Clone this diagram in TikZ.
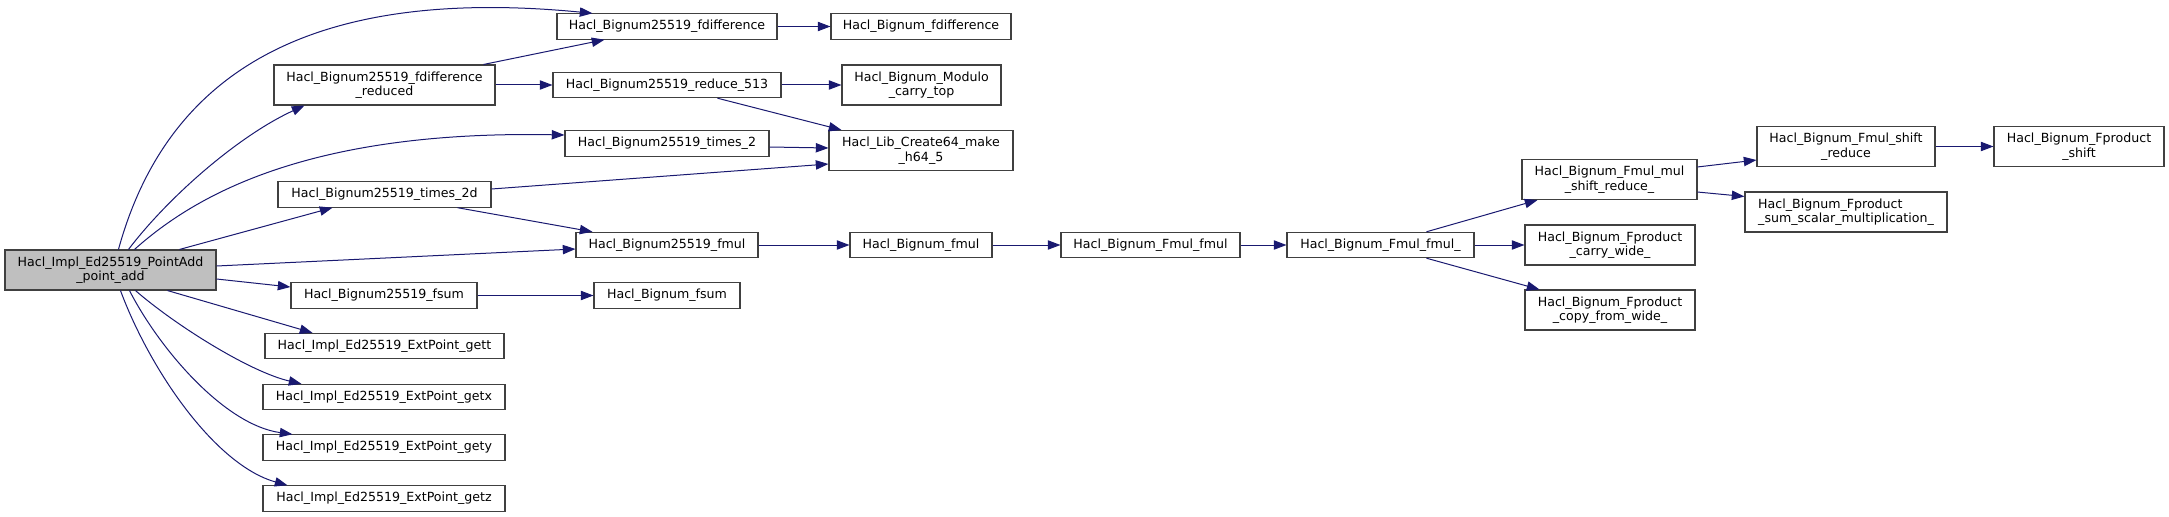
\documentclass[tikz,border=0pt]{standalone}
\usepackage{fontspec}
\setmainfont{DejaVu Sans}
\usetikzlibrary{arrows.meta,calc}
\definecolor{edgeblue}{RGB}{25,25,112}
\definecolor{boxgray}{RGB}{64,64,64}
\definecolor{rootfill}{RGB}{191,191,191}

\begin{document}
\begin{tikzpicture}[
    x=0.75pt, y=-0.75pt,
    func/.style={
        rectangle, draw=boxgray, line width=0.8pt,
        minimum height=19pt, inner sep=0pt,
        align=center, font=\fontsize{9.45}{10.9}\selectfont
    },
    tall/.style={minimum height=30pt},
    root/.style={func, tall, fill=rootfill},
    call/.style={-{Triangle[length=9.5pt,width=7pt]}, draw=edgeblue, line width=0.75pt}
]
\useasboundingbox (0,0) rectangle (2169,517);

% Blocks
\node[root, minimum width=158.25pt] (main) at (110.5,270) {Hacl\_Impl\_Ed25519\_PointAdd\\\_point\_add};

\node[func, tall, minimum width=165.75pt] (fdiffred) at (384.5,85)  {Hacl\_Bignum25519\_fdifference\\\_reduced};
\node[func, minimum width=159.75pt] (times2d) at (384.5,194.5) {Hacl\_Bignum25519\_times\_2d};
\node[func, minimum width=139.5pt]  (fsum)    at (384,295.5)   {Hacl\_Bignum25519\_fsum};
\node[func, minimum width=179.25pt] (gett)    at (384.5,346)   {Hacl\_Impl\_Ed25519\_ExtPoint\_gett};
\node[func, minimum width=181.5pt]  (getx)    at (384,397)     {Hacl\_Impl\_Ed25519\_ExtPoint\_getx};
\node[func, minimum width=181.5pt]  (gety)    at (384,447.5)   {Hacl\_Impl\_Ed25519\_ExtPoint\_gety};
\node[func, minimum width=181.5pt]  (getz)    at (384,498.5)   {Hacl\_Impl\_Ed25519\_ExtPoint\_getz};

\node[func, minimum width=165pt]   (fdiff)  at (667,26.5)  {Hacl\_Bignum25519\_fdifference};
\node[func, minimum width=171pt]   (reduce) at (667,85)    {Hacl\_Bignum25519\_reduce\_513};
\node[func, minimum width=153pt]   (times2) at (667,143.5) {Hacl\_Bignum25519\_times\_2};
\node[func, minimum width=136.5pt] (fmul)   at (667,245)   {Hacl\_Bignum25519\_fmul};
\node[func, minimum width=109.5pt] (bfsum)  at (667,295.5) {Hacl\_Bignum\_fsum};

\node[func, minimum width=135pt]          (bfdiff)   at (921,26.5)  {Hacl\_Bignum\_fdifference};
\node[func, tall, minimum width=119.25pt] (modcarry) at (921.5,85)  {Hacl\_Bignum\_Modulo\\\_carry\_top};
\node[func, tall, minimum width=138pt]    (makeh)    at (921,150.5) {Hacl\_Lib\_Create64\_make\\\_h64\_5};
\node[func, minimum width=106.5pt]        (bfmul)    at (921,245)   {Hacl\_Bignum\_fmul};

\node[func, minimum width=134.25pt] (fmulfmul)  at (1150.5,245) {Hacl\_Bignum\_Fmul\_fmul};
\node[func, minimum width=140.25pt] (fmulfmulu) at (1380.5,245) {Hacl\_Bignum\_Fmul\_fmul\_};

\node[func, tall, minimum width=131.25pt] (mulshift)  at (1609.5,179.5) {Hacl\_Bignum\_Fmul\_mul\\\_shift\_reduce\_};
\node[func, tall, minimum width=127.5pt]  (carrywide) at (1610,245)     {Hacl\_Bignum\_Fproduct\\\_carry\_wide\_};
\node[func, tall, minimum width=127.5pt]  (copywide)  at (1610,310)     {Hacl\_Bignum\_Fproduct\\\_copy\_from\_wide\_};

\node[func, tall, minimum width=133.5pt] (shiftred)  at (1846,146.5) {Hacl\_Bignum\_Fmul\_shift\\\_reduce};
\node[func, tall, minimum width=151.5pt, align=left] (sumscalar) at (1846,212) {Hacl\_Bignum\_Fproduct\\\_sum\_scalar\_multiplication\_};
\node[func, tall, minimum width=127.5pt] (fpshift)   at (2079,146.5) {Hacl\_Bignum\_Fproduct\\\_shift};

% Edges from the root
\draw[call] ($(main.north west)+(114,0)$) .. controls (165,80) and (300,-15) .. ($(fdiff.north west)+(36,0)$);
\draw[call] ($(main.north west)+(124,0)$) .. controls (170,195) and (240,135) .. ($(fdiffred.south west)+(31,0)$);
\draw[call] ($(main.north west)+(130,0)$) .. controls (190,200) and (300,130) .. ($(times2.west)+(0,-8.5)$);
\draw[call] ($(main.north west)+(175,0)$) -- ($(times2d.south west)+(55,0)$);
\draw[call] ($(main.east)+(0,-4)$) -- ($(fmul.west)+(0,4)$);
\draw[call] ($(main.east)+(0,9)$) -- ($(fsum.west)+(0,-8.5)$);
\draw[call] ($(main.south west)+(163,0)$) -- ($(gett.north west)+(48,0)$);
\draw[call] ($(main.south west)+(131,0)$) .. controls (175,325) and (250,372) .. ($(getx.north west)+(39,0)$);
\draw[call] ($(main.south west)+(125,0)$) .. controls (160,350) and (225,425) .. ($(gety.north west)+(30,0)$);
\draw[call] ($(main.south west)+(116,0)$) .. controls (150,370) and (215,465) .. ($(getz.north west)+(25,0)$);

% Remaining calls
\draw[call] ($(fdiffred.north east)+(-12,0)$) -- ($(fdiff.south west)+(48,0)$);
\draw[call] (fdiffred.east) -- (reduce.west);
\draw[call] (reduce.east) -- (modcarry.west);
\draw[call] ($(reduce.south west)+(165,0)$) -- ($(makeh.north west)+(13,0)$);
\draw[call] ($(times2.east)+(0,3.5)$) -- ($(makeh.west)+(0,-2.5)$);
\draw[call] ($(times2d.east)+(0,-5.5)$) -- ($(makeh.west)+(0,13.5)$);
\draw[call] ($(times2d.south east)+(-34,0)$) -- ($(fmul.north west)+(17,0)$);
\draw[call] (fdiff) -- (bfdiff);
\draw[call] (fmul) -- (bfmul);
\draw[call] (fsum) -- (bfsum);
\draw[call] (bfmul) -- (fmulfmul);
\draw[call] (fmulfmul) -- (fmulfmulu);
\draw[call] ($(fmulfmulu.north west)+(140,0)$) -- ($(mulshift.south west)+(16,0)$);
\draw[call] (fmulfmulu) -- (carrywide);
\draw[call] ($(fmulfmulu.south west)+(140,0)$) -- ($(copywide.north west)+(15,0)$);
\draw[call] ($(mulshift.north east)+(0,8)$) -- ($(shiftred.south west)+(0,-7)$);
\draw[call] ($(mulshift.south east)+(0,-8)$) -- ($(sumscalar.north west)+(0,5)$);
\draw[call] (shiftred) -- (fpshift);

\end{tikzpicture}
\end{document}
